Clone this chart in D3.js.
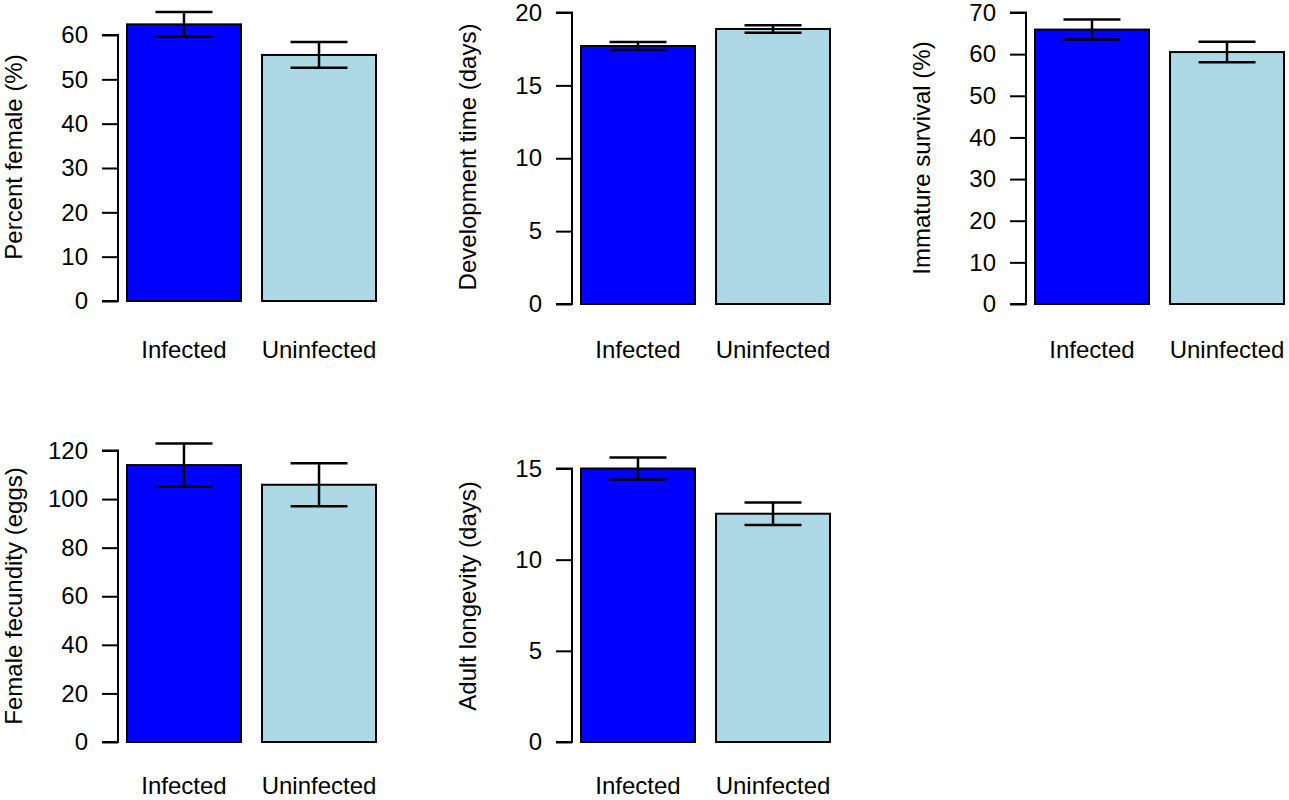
<!DOCTYPE html>
<html>
<head>
<meta charset="utf-8">
<script src="https://cdn.jsdelivr.net/npm/d3@7"></script>
<style>
  body { margin: 0; background: #fff; }
  svg text { font-family: "Liberation Sans", Arial, sans-serif; fill: #000; }
</style>
</head>
<body>
<div id="graphCard"></div>
<script>
// categories + colours
var groups = ["Infected", "Uninfected"];
var groupColors = ["#0000FF", "#ADD8E6"];

// y axis titles
var titles = ["Percent female (%)", "Development time (days)", "Immature survival (%)",
              "Female fecundity (eggs)", "Adult longevity (days)"];

// means (infected, uninfected)
var percentFemale     = [62.4, 55.5];
var developmentTime   = [17.7, 18.87];
var immatureSurvival  = [65.9, 60.5];
var femaleFecundity   = [114.0, 105.9];
var adultLongevity    = [15.0, 12.52];

// standard errors
var percentFemaleSE    = [2.8, 2.9];
var developmentTimeSE  = [0.28, 0.26];
var immatureSurvivalSE = [2.4, 2.45];
var femaleFecunditySE  = [8.9, 8.85];
var adultLongevitySE   = [0.6, 0.62];

// tick labels
var percentFemaleTicks    = [0, 10, 20, 30, 40, 50, 60];
var developmentTimeTicks  = [0, 5, 10, 15, 20];
var immatureSurvivalTicks = [0, 10, 20, 30, 40, 50, 60, 70];
var femaleFecundityTicks  = [0, 20, 40, 60, 80, 100, 120];
var adultLongevityTicks   = [0, 5, 10, 15];

var w = 1289;
var h = 800;
var fontSize = 24;

// panel placement (pixels): axis x, bar area, zero line, top tick line, title spot, label baseline
var panels = [
  { means: percentFemale,    se: percentFemaleSE,    ticks: percentFemaleTicks,
    axisX: 118, left: 127, right: 376, y0: 301, yTop: 35, titleX: 22, titleY: 157, labelY: 358 },
  { means: developmentTime,  se: developmentTimeSE,  ticks: developmentTimeTicks,
    axisX: 572, left: 581, right: 830, y0: 304, yTop: 12.5, titleX: 476, titleY: 157, labelY: 358 },
  { means: immatureSurvival, se: immatureSurvivalSE, ticks: immatureSurvivalTicks,
    axisX: 1026, left: 1035, right: 1284, y0: 304, yTop: 12.5, titleX: 930, titleY: 158, labelY: 358 },
  { means: femaleFecundity,  se: femaleFecunditySE,  ticks: femaleFecundityTicks,
    axisX: 118, left: 127, right: 376, y0: 742, yTop: 450.5, titleX: 22, titleY: 596, labelY: 794 },
  { means: adultLongevity,   se: adultLongevitySE,   ticks: adultLongevityTicks,
    axisX: 572, left: 581, right: 830, y0: 742, yTop: 468.5, titleX: 476, titleY: 596, labelY: 794 }
];

var svg = d3.select("#graphCard")
            .append("svg")
            .attr("width", w)
            .attr("height", h);

function drawPanel(p, title){

    var tickMax = p.ticks[p.ticks.length - 1];

    var y = d3.scaleLinear()
              .domain([0, tickMax])
              .range([p.y0, p.yTop]);

    var x = d3.scaleBand()
              .domain(groups)
              .range([p.left, p.right])
              .paddingInner(0.156)
              .paddingOuter(0);

    var g = svg.append("g");

    // bars
    g.selectAll("rect")
     .data(groups)
     .enter()
     .append("rect")
     .attr("x", function(d) { return x(d); })
     .attr("y", function(d, i) { return y(p.means[i]); })
     .attr("width", x.bandwidth())
     .attr("height", function(d, i) { return y(0) - y(p.means[i]); })
     .attr("fill", function(d, i) { return groupColors[i]; })
     .attr("stroke", "#000")
     .attr("stroke-width", 2);

    // error bars
    var capHalf = x.bandwidth() / 4;
    groups.forEach(function(d, i){
        var cx = x(d) + x.bandwidth() / 2;
        var hi = y(p.means[i] + p.se[i]);
        var lo = y(p.means[i] - p.se[i]);
        g.append("line").attr("x1", cx).attr("x2", cx).attr("y1", hi).attr("y2", lo);
        g.append("line").attr("x1", cx - capHalf).attr("x2", cx + capHalf).attr("y1", hi).attr("y2", hi);
        g.append("line").attr("x1", cx - capHalf).attr("x2", cx + capHalf).attr("y1", lo).attr("y2", lo);
    });
    g.selectAll("line")
     .attr("stroke", "#000")
     .attr("stroke-width", 2.5);

    // y axis
    var axis = d3.axisLeft(y)
                 .tickValues(p.ticks)
                 .tickSize(16)
                 .tickPadding(14)
                 .tickFormat(d3.format("d"));

    var ag = svg.append("g")
                .attr("transform", "translate(" + p.axisX + ",0)")
                .call(axis);
    ag.select(".domain")
      .attr("d", "M-16," + y(0) + "H0V" + y(tickMax) + "H-16")
      .attr("stroke", "#000")
      .attr("stroke-width", 2)
      .attr("fill", "none");
    ag.selectAll(".tick line").attr("stroke", "#000").attr("stroke-width", 2);
    ag.selectAll(".tick text")
      .attr("font-size", fontSize)
      .attr("font-family", "Liberation Sans, Arial, sans-serif")
      .attr("fill", "#000");

    // category names
    svg.selectAll(null)
       .data(groups)
       .enter()
       .append("text")
       .attr("x", function(d) { return x(d) + x.bandwidth() / 2; })
       .attr("y", p.labelY)
       .attr("text-anchor", "middle")
       .attr("font-size", fontSize)
       .text(function(d) { return d; });

    // axis title
    svg.append("text")
       .attr("transform", "translate(" + p.titleX + "," + p.titleY + ") rotate(-90)")
       .attr("text-anchor", "middle")
       .attr("font-size", fontSize)
       .text(title);
}

for (var i in panels) {
    drawPanel(panels[i], titles[i]);
}
</script>
</body>
</html>
